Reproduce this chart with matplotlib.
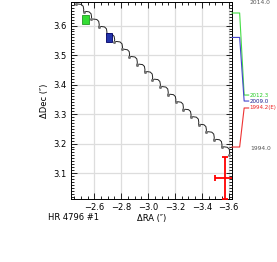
import matplotlib
matplotlib.use('Agg')
import matplotlib.pyplot as plt
from matplotlib.patches import Rectangle
from matplotlib.ticker import MultipleLocator

# background-star track, one cusp per year (1994.0 -> 2014.0)
track_ra = [-3.605, -3.548, -3.490, -3.432, -3.375, -3.318, -3.260, -3.205, -3.148, -3.090, -3.032,
            -2.975, -2.918, -2.860, -2.808, -2.750, -2.692, -2.635, -2.578, -2.520, -2.462]
track_dec = [3.162, 3.188, 3.213, 3.239, 3.264, 3.290, 3.315, 3.341, 3.366, 3.392, 3.417,
             3.443, 3.468, 3.494, 3.519, 3.545, 3.570, 3.596, 3.621, 3.647, 3.672]

# measurements
epochs = [2012.3, 2009.0, 1994.2]
epoch_labels = ['2012.3', '2009.0', '1994.2(E)']
meas_ra = [-2.535, -2.713, -3.572]
meas_dec = [3.621, 3.559, 3.083]
box_w = [0.045, 0.045]
box_h = [0.031, 0.031]
err_ra = 0.072
err_dec = 0.072

fig = plt.figure(figsize=(2.77, 2.62), dpi=100)
ax = fig.add_axes([71/277, 1-199/262, (232-71)/277, 197/262])

ax.grid(color='#dddddd', linewidth=0.9)
ax.set_axisbelow(True)

for i in range(len(track_ra)-1):
    ax.annotate('', xy=(track_ra[i], track_dec[i]), xytext=(track_ra[i+1], track_dec[i+1]),
                arrowprops=dict(arrowstyle='-', color='#222222', lw=0.7, shrinkA=0, shrinkB=0,
                                connectionstyle='arc3,rad=-0.75'))
ax.plot(track_ra, track_dec, 'o', color='#777777', markersize=2.2, markeredgewidth=0, zorder=3)

ax.add_patch(Rectangle((meas_ra[0]-box_w[0]/2, meas_dec[0]-box_h[0]/2), box_w[0], box_h[0],
                       facecolor='#33dd33', edgecolor='#229922', lw=0.6, zorder=3))
ax.add_patch(Rectangle((meas_ra[1]-box_w[1]/2, meas_dec[1]-box_h[1]/2), box_w[1], box_h[1],
                       facecolor='#2233aa', edgecolor='#000066', lw=0.6, zorder=3))
ax.errorbar(meas_ra[2], meas_dec[2], xerr=err_ra, yerr=err_dec, color='red', lw=1.3,
            capsize=2.5, capthick=1.3, zorder=4)

ax.set_xlim(-2.427, -3.624)
ax.set_ylim(3.012, 3.68)
ax.xaxis.set_major_locator(MultipleLocator(0.2))
ax.xaxis.set_minor_locator(MultipleLocator(0.05))
ax.yaxis.set_major_locator(MultipleLocator(0.1))
ax.yaxis.set_minor_locator(MultipleLocator(0.01))
ax.tick_params(which='both', direction='in', top=True, right=True, labelsize=6, width=0.6, pad=3)
ax.tick_params(which='major', length=4)
ax.tick_params(which='minor', length=2)
for s in ax.spines.values():
    s.set_linewidth(0.7)
ax.set_xlabel('\u0394RA (\u2033)', fontsize=6, labelpad=1)
ax.set_ylabel('\u0394Dec (\u2033)', fontsize=6, labelpad=3)
fig.text(48/277, 1-218/262, 'HR 4796 #1', fontsize=6, va='center')

# epoch timeline on the right
tax = fig.add_axes([232/277, 1-148.5/262, 45/277, 148.1/262], zorder=5)
tax.set_xlim(0, 1)
tax.set_ylim(1994, 2014)
tax.axis('off')
line_cols = ['#44dd44', '#4444cc', '#ee3333']
text_cols = ['#22cc22', '#1a1a8c', '#ee2222']
label_y = [2001.22, 2000.41, 1999.47]
for k in range(3):
    tax.plot([0, 0.17, 0.27, 0.37], [epochs[k], epochs[k], label_y[k], label_y[k]],
             color=line_cols[k], lw=0.8, clip_on=False)
    tax.text(0.39, label_y[k], epoch_labels[k], color=text_cols[k], fontsize=4.0,
             va='center')
tax.text(0.40, 2014.0, '2014.0', color='#555555', fontsize=4.3, va='top')
tax.text(0.40, 1994.0, '1994.0', color='#555555', fontsize=4.3, va='center')

fig.savefig('out.png', dpi=100)
